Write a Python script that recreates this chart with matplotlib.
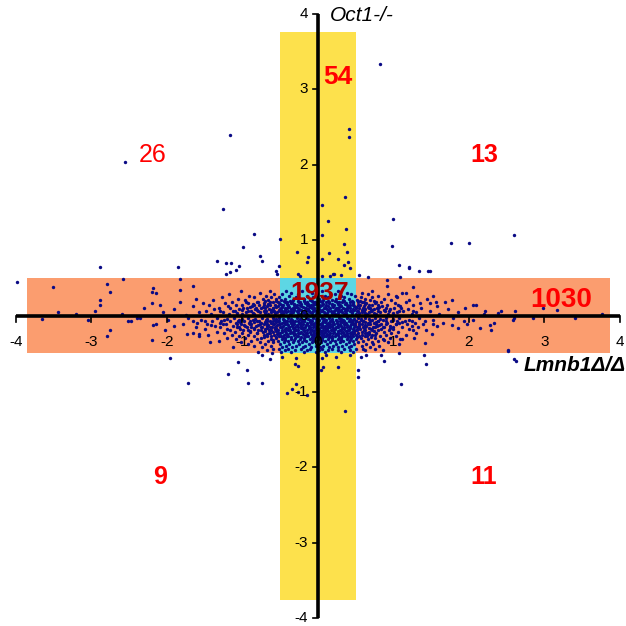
import matplotlib
matplotlib.use('Agg')
import matplotlib.pyplot as plt

plt.rcParams['font.family'] = ['Liberation Sans', 'DejaVu Sans']

# tick values on both axes
ticks = [-4, -3, -2, -1, 0, 1, 2, 3, 4]

# counts shown in each region: (label, x, y, colour, bold, size)
region_counts = [
    ('54', 0.27, 3.16, '#ff0000', True, 19),
    ('26', -2.19, 2.13, '#ff0000', False, 18),
    ('13', 2.21, 2.13, '#ff0000', True, 18),
    ('9', -2.09, -2.13, '#ff0000', True, 18),
    ('11', 2.20, -2.13, '#ff0000', True, 18),
    ('1937', 0.02, 0.30, '#a80000', True, 19),
    ('1030', 3.22, 0.21, '#ff0000', True, 20),
]

# sparse points read one by one (log ratio Lmnb1, log ratio Oct1)
outer_points = [
    (-2.55, 2.04), (-1.17, 2.39), (-1.26, 1.41), (-0.84, 1.08), (-0.99, 0.91), (-0.50, 1.02),
    (-0.77, 0.79), (-0.74, 0.73), (-1.34, 0.73), (-1.22, 0.70), (-1.15, 0.70), (-1.04, 0.66),
    (-1.09, 0.61), (-1.17, 0.58), (-1.22, 0.56), (-2.88, 0.65), (-1.85, 0.65), (-0.51, 0.66),
    (-0.55, 0.60), (-0.54, 0.56), (-0.28, 0.85), (-0.13, 0.78), (-0.15, 0.71), (-0.26, 0.56),
    (-0.24, 0.53), (-3.98, 0.45), (-3.51, 0.39), (-2.58, 0.49), (-2.79, 0.42), (-2.75, 0.32),
    (-2.89, 0.21), (-2.88, 0.15), (-3.44, 0.05), (-2.51, -0.07), (-2.75, -0.18), (-2.79, -0.26),
    (-2.20, 0.32), (-2.14, 0.30), (-2.18, 0.37), (-1.83, 0.49), (-1.65, 0.40), (-1.83, 0.34),
    (-2.20, 0.17), (-2.09, 0.15), (-2.18, -0.12), (-2.20, -0.32), (-1.96, -0.55), (-1.74, -0.24),
    (-1.65, -0.23), (-1.58, -0.24), (-1.43, -0.34), (-1.41, -0.12), (-1.72, -0.88), (-1.19, -0.77),
    (-1.06, -0.61), (-0.94, -0.71), (-0.93, -0.88), (-0.74, -0.88), (-0.74, -0.52), (-0.64, -0.57),
    (-0.61, -0.49), (-0.47, -0.54), (-0.29, -0.55), (-0.30, -0.64), (-0.26, -0.66), (-0.29, -0.90),
    (-0.34, -0.97), (-0.41, -1.02), (-0.26, -1.01), (-0.14, -1.05), (0.57, -0.54), (0.64, -0.51),
    (0.84, -0.51), (0.87, -0.59), (1.07, -0.49), (1.41, -0.52), (1.43, -0.63), (1.10, -0.90),
    (0.53, -0.71), (0.53, -0.81), (2.60, -0.57), (2.62, -0.60), (2.52, -0.46), (0.36, -1.26),
    (0.26, -0.67), (0.07, -0.68), (0.04, -0.71), (0.05, -0.56), (0.42, -0.52), (0.24, -0.54),
    (0.11, -0.52), (0.82, 3.33), (0.41, 2.47), (0.41, 2.37), (0.36, 1.57), (0.05, 1.47),
    (0.14, 1.26), (0.37, 1.15), (0.05, 1.07), (0.34, 0.95), (0.38, 0.85), (0.15, 0.84),
    (0.26, 0.76), (0.05, 0.76), (0.40, 0.71), (0.34, 0.68), (0.42, 0.63), (0.21, 0.56),
    (0.99, 1.28), (0.98, 0.92), (1.07, 0.67), (1.21, 0.64), (1.34, 0.59), (1.48, 0.59),
    (1.76, 0.97), (2.00, 0.97), (2.60, 1.07), (0.55, 0.54), (0.66, 0.51), (0.20, 0.56),
    (0.06, 0.53), (0.16, 0.53), (0.30, 0.54), (1.20, 0.65), (1.46, 0.59), (0.91, 0.48),
    (1.09, 0.52), (0.92, 0.40), (1.26, 0.39), (1.04, 0.27), (1.17, 0.30), (1.53, 0.26),
    (1.48, 0.17), (1.57, 0.19), (1.77, 0.21), (1.95, 0.11), (2.10, 0.15), (2.21, 0.06),
    (2.39, 0.04), (2.61, 0.07), (2.98, 0.11), (3.16, 0.08), (3.76, 0.03), (2.15, -0.16),
    (2.28, -0.12), (2.29, -0.19), (1.77, -0.12), (1.86, -0.16), (1.97, -0.10), (2.59, -0.05),
    (2.52, -0.45), (1.42, -0.36), (0.86, -0.45), (1.26, -0.19), (1.09, -0.30), (1.51, -0.24),
    (1.53, -0.10), (0.87, -0.32), (0.75, -0.25), (1.00, -0.14), (0.60, -0.43), (0.73, -0.37),
    (-3.20, 0.03), (-3.65, -0.04), (-2.95, 0.06), (-2.40, -0.02), (-1.75, 0.02), (3.40, -0.02),
    (2.85, -0.03),
]

# dense centre, read row by row: (y, [x values in that row])
core_rows = [
    (0.33, [-0.42, -0.21, 0.05, 0.27, -0.63, 0.71, -1.02]),
    (0.31, [-0.35, -0.08, 0.16, 0.38, -0.77, 0.58, 1.12]),
    (0.29, [-0.47, -0.26, -0.02, 0.22, 0.44, -0.58, 0.66, -1.18, 0.93]),
    (0.27, [-0.38, -0.14, 0.09, 0.31, 0.49, -0.69, 0.79, -0.91, 1.31]),
    (0.25, [-0.51, -0.29, -0.06, 0.13, 0.35, -0.62, 0.57, -0.84, 0.72, -1.27, 1.05]),
    (0.23, [-0.44, -0.19, 0.02, 0.24, 0.41, -0.55, 0.62, -0.73, 0.88, -1.06, 1.44, -1.61]),
    (0.21, [-0.49, -0.33, -0.11, 0.07, 0.19, 0.33, 0.52, -0.66, 0.69, -0.97, 0.97, -1.39, 1.21]),
    (0.20, [-0.55, -0.45, -0.37, -0.27, -0.18, -0.08, 0.03, 0.13, 0.23, 0.34, 0.45, 0.56, -0.7, 0.74]),
    (0.19, [-0.41, -0.24, -0.04, 0.11, 0.28, 0.46, -0.59, 0.58, -0.81, 0.83, -1.14, 1.17, -1.83, 1.68]),
    (0.18, [-0.53, -0.43, -0.34, -0.25, -0.15, -0.06, 0.05, 0.15, 0.25, 0.32, 0.43, 0.53, -0.64, 0.61, -0.79, 0.77, -0.95]),
    (0.17, [-0.52, -0.36, -0.17, 0.0, 0.15, 0.37, -0.71, 0.64, -0.92, 0.76, -1.23, 1.02, -1.52, 1.35]),
    (0.16, [-0.5, -0.41, -0.32, -0.23, -0.13, -0.04, 0.07, 0.18, 0.26, 0.36, 0.47, -0.66, 0.63, -0.86]),
    (0.15, [-0.46, -0.28, -0.09, 0.06, 0.21, 0.42, 0.53, -0.63, 0.71, -0.78, 0.92, -1.08, 1.26, -1.44, 2.05]),
    (0.14, [-0.57, -0.48, -0.4, -0.32, -0.24, -0.15, -0.07, 0.02, 0.11, 0.19, 0.29, 0.38, 0.46, 0.56, -0.71, 0.68, -0.84, 0.8, -1.0, 1.06]),
    (0.13, [-0.53, -0.39, -0.22, -0.12, 0.03, 0.14, 0.30, 0.48, -0.68, 0.61, -0.87, 0.85, -1.19, 1.09, -1.66, 1.58]),
    (0.12, [-0.56, -0.47, -0.38, -0.29, -0.2, -0.1, 0.0, 0.1, 0.2, 0.28, 0.4, 0.5, -0.73, 0.66, -0.9, 0.81]),
    (0.11, [-0.44, -0.31, -0.16, -0.05, 0.09, 0.24, 0.39, 0.55, -0.60, 0.67, -0.75, 0.79, -0.99, 1.01, -1.31, 1.37, -2.3]),
    (0.10, [-0.59, -0.49, -0.41, -0.33, -0.26, -0.17, -0.08, 0.0, 0.08, 0.16, 0.25, 0.33, 0.42, 0.51, 0.6, -0.7, 0.69, -0.82, 0.78, -0.94, 0.9, -1.16, 1.1]),
    (0.09, [-0.50, -0.35, -0.25, -0.13, 0.01, 0.12, 0.27, 0.36, 0.47, -0.65, 0.63, -0.83, 0.74, -1.05, 0.95, -1.37, 1.19, 1.72, -1.9]),
    (0.08, [-0.52, -0.44, -0.31, -0.22, -0.15, -0.05, 0.06, 0.14, 0.23, 0.31, 0.39, 0.48, 0.58, -0.62, -0.8, 0.72, -1.0, 0.87]),
    (0.07, [-0.47, -0.40, -0.27, -0.18, -0.07, 0.04, 0.17, 0.26, 0.43, 0.52, -0.58, 0.60, -0.72, 0.70, -0.89, 0.89, -1.12, 1.13, -1.48, 1.48, 2.42]),
    (0.06, [-0.6, -0.5, -0.43, -0.35, -0.28, -0.21, -0.12, -0.03, 0.05, 0.13, 0.21, 0.29, 0.36, 0.44, 0.53, 0.61, -0.69, 0.7, -0.79, 0.8, -0.92, 0.94, -1.1, 1.08, -1.3, 1.26]),
    (0.05, [-0.54, -0.42, -0.33, -0.2, -0.1, 0.0, 0.08, 0.2, 0.32, 0.45, -0.62, 0.58, -0.77, 0.68, -0.95, 0.82, -1.26, 1.05, -1.58, 1.3, -2.05, 1.85]),
    (0.04, [-0.57, -0.46, -0.36, -0.26, -0.17, -0.08, 0.02, 0.12, 0.18, 0.27, 0.37, 0.45, 0.55, -0.7, 0.63, -0.86, 0.74, -1.07, 0.99]),
    (0.03, [-0.49, -0.37, -0.23, -0.15, -0.03, 0.1, 0.22, 0.35, 0.5, -0.66, 0.65, -0.84, 0.77, -1.01, 0.93, -1.18, 1.24, -1.42, 1.61, -2.6, 2.2]),
    (-0.03, [-0.51, -0.39, -0.28, -0.16, -0.06, 0.05, 0.15, 0.28, 0.39, 0.53, -0.6, 0.62, -0.74, 0.75, -0.93, 0.9, -1.11, 1.07, -1.33, 1.34, -1.72, 1.79, -2.35, 2.6]),
    (-0.04, [-0.55, -0.46, -0.36, -0.24, -0.13, -0.02, 0.08, 0.19, 0.3, 0.42, 0.48, 0.57, -0.68, 0.67, -0.83, 0.82, -1.0, 0.99, -1.2]),
    (-0.05, [-0.45, -0.34, -0.21, -0.11, 0.02, 0.11, 0.24, 0.33, 0.46, -0.57, 0.57, -0.69, 0.71, -0.86, 0.86, -1.04, 1.0, -1.24, 1.21, -1.55, 1.52, -1.98, 2.05, -3.05]),
    (-0.06, [-0.6, -0.52, -0.43, -0.37, -0.27, -0.18, -0.09, -0.01, 0.07, 0.16, 0.25, 0.35, 0.43, 0.51, 0.6, -0.68, 0.69, -0.78, 0.79, -0.9, 0.9, -1.06, 1.05, -1.28, 1.24, -1.5]),
    (-0.07, [-0.53, -0.41, -0.3, -0.19, -0.08, 0.0, 0.08, 0.18, 0.29, 0.41, 0.51, -0.64, 0.6, -0.8, 0.79, -0.98, 0.97, -1.16, 1.15, -1.4, 1.42, -1.66, 1.93, -2.48]),
    (-0.08, [-0.56, -0.45, -0.33, -0.22, -0.11, -0.02, 0.1, 0.2, 0.32, 0.45, 0.54, -0.7, 0.63, -0.85, 0.77, -1.03, 1.12]),
    (-0.09, [-0.48, -0.36, -0.25, -0.14, -0.04, 0.06, 0.13, 0.25, 0.37, 0.49, -0.62, 0.66, -0.75, 0.74, -0.91, 0.92, -1.09, 1.08, -1.3, 1.28, -1.6, 1.66, 2.33]),
    (-0.10, [-0.58, -0.5, -0.41, -0.34, -0.24, -0.15, -0.06, 0.04, 0.12, 0.2, 0.29, 0.36, 0.46, 0.55, -0.67, 0.66, -0.77, 0.77, -0.9, 0.9, -1.07, 1.03, -1.26]),
    (-0.11, [-0.52, -0.43, -0.32, -0.2, -0.09, 0.03, 0.16, 0.21, 0.34, 0.44, -0.59, 0.58, -0.71, 0.69, -0.88, 0.84, -1.02, 1.04, -1.22, 1.18, -1.47, 1.39, -1.79, -2.15]),
    (-0.12, [-0.54, -0.4, -0.28, -0.16, -0.05, 0.06, 0.14, 0.26, 0.38, 0.49, -0.66, 0.62, -0.79, 0.81, -0.98]),
    (-0.13, [-0.46, -0.34, -0.23, -0.12, -0.01, 0.1, 0.19, 0.31, 0.43, 0.54, -0.67, 0.64, -0.82, 0.78, -0.96, 0.96, -1.13, 1.25, -1.36, 1.58, -1.9]),
    (-0.14, [-0.57, -0.48, -0.38, -0.3, -0.21, -0.11, -0.03, 0.07, 0.16, 0.24, 0.35, 0.42, 0.52, -0.64, 0.63, -0.74, 0.76, -0.88, 0.86, -1.05]),
    (-0.15, [-0.5, -0.38, -0.27, -0.17, -0.06, 0.04, 0.14, 0.27, 0.38, 0.48, -0.61, 0.6, -0.76, 0.73, -0.94, 0.88, -1.07, 1.11, -1.29, 1.33, -1.62]),
    (-0.16, [-0.55, -0.42, -0.33, -0.23, -0.12, -0.02, 0.09, 0.2, 0.32, 0.43, 0.54, -0.67, 0.68, -0.84, 0.95]),
    (-0.17, [-0.44, -0.31, -0.2, -0.1, 0.01, 0.12, 0.23, 0.35, 0.46, -0.57, 0.56, -0.7, 0.7, -0.85, 0.83, -1.03, 1.0, -1.21, 1.2, -1.5]),
    (-0.18, [-0.56, -0.47, -0.37, -0.27, -0.18, -0.08, 0.02, 0.11, 0.2, 0.31, 0.41, 0.5, -0.62, 0.61, -0.76, 0.72, -0.93]),
    (-0.19, [-0.53, -0.4, -0.29, -0.15, -0.04, 0.07, 0.17, 0.29, 0.4, 0.52, -0.65, 0.63, -0.79, 0.8, -0.99, 0.94, -1.17, 1.43, -2.02]),
    (-0.20, [-0.55, -0.44, -0.32, -0.19, -0.07, 0.04, 0.14, 0.26, 0.37, 0.48, -0.7, 0.74, -0.9]),
    (-0.21, [-0.47, -0.35, -0.22, -0.11, 0.02, 0.09, 0.21, 0.33, 0.45, -0.6, 0.59, -0.73, 0.68, -0.9, 0.87, -1.1, 1.06, -1.34]),
    (-0.22, [-0.53, -0.42, -0.33, -0.24, -0.16, -0.05, 0.05, 0.16, 0.27, 0.38, 0.48, -0.65, 0.62, -0.8]),
    (-0.23, [-0.5, -0.37, -0.26, -0.14, -0.03, 0.08, 0.2, 0.31, 0.42, 0.53, -0.63, 0.65, -0.81, 0.77, -1.0, 0.97, -1.25, 1.3]),
    (-0.24, [-0.54, -0.41, -0.3, -0.2, -0.09, 0.01, 0.12, 0.24, 0.35, 0.45, -0.68, 0.67]),
    (-0.25, [-0.45, -0.32, -0.18, -0.07, 0.05, 0.15, 0.26, 0.39, 0.5, -0.58, 0.58, -0.72, 0.72, -0.93, 0.9, -1.14, 1.16, -1.45]),
    (-0.26, [-0.49, -0.39, -0.26, -0.16, -0.04, 0.08, 0.19, 0.32, 0.43, 0.54, -0.62, 0.65]),
    (-0.27, [-0.51, -0.41, -0.28, -0.13, -0.01, 0.11, 0.23, 0.36, 0.47, -0.67, 0.62, -0.84, 0.82, -1.05, 1.03, -1.58]),
    (-0.28, [-0.55, -0.46, -0.35, -0.22, -0.08, 0.03, 0.15, 0.28, 0.4, 0.52, -0.72, 0.7]),
    (-0.29, [-0.43, -0.3, -0.19, -0.06, 0.06, 0.18, 0.3, 0.44, -0.56, 0.57, -0.76, 0.75, -0.97, 0.95, -1.2, 1.27]),
    (-0.31, [-0.48, -0.36, -0.24, -0.1, 0.02, 0.14, 0.27, 0.38, 0.51, -0.62, 0.66, -0.8, 0.86, -1.09, 1.12]),
    (-0.32, [-0.44, -0.31, -0.19, -0.07, 0.06, 0.19, 0.31, 0.43, -0.6]),
    (-0.33, [-0.53, -0.4, -0.27, -0.16, -0.04, 0.09, 0.22, 0.33, 0.46, -0.66, 0.6, -0.88, 0.79, -1.31]),
    (-0.35, [-0.45, -0.33, -0.21, -0.08, 0.04, 0.16, 0.29, 0.41, 0.53, -0.59, 0.71, -0.77, 0.93, -1.02]),
    (-0.37, [-0.5, -0.38, -0.25, -0.12, 0.0, 0.12, 0.24, 0.37, 0.48, -0.7, 0.64, -0.92, 1.08]),
    (-0.39, [-0.42, -0.29, -0.17, -0.03, 0.07, 0.2, 0.32, 0.44, -0.62, 0.58, -0.85, 0.81]),
    (-0.41, [-0.47, -0.34, -0.2, -0.09, 0.03, 0.15, 0.27, 0.41, -0.74, 0.69, -1.12]),
    (-0.43, [-0.52, -0.39, -0.23, -0.11, 0.05, 0.19, 0.35, 0.5, -0.6, 0.75]),
    (-0.45, [-0.44, -0.3, -0.14, 0.01, 0.13, 0.26, 0.43, -0.67, 0.62]),
    (-0.47, [-0.49, -0.36, -0.18, -0.02, 0.1, 0.3, 0.47, -0.79]),
]

xs = [p[0] for p in outer_points]
ys = [p[1] for p in outer_points]
for yrow, xrow in core_rows:
    for xv in xrow:
        xs.append(xv)
        ys.append(yrow)

fig = plt.figure(figsize=(6.26, 6.26), dpi=100)
ax = fig.add_axes([0, 0, 1, 1])
ax.set_xlim(-4.21, 4.08)
ax.set_ylim(-4.10, 4.18)
ax.axis('off')

# shaded bands
yellow = '#fde14c'
orange = '#fb9d6f'
cyan = '#5dd6e4'
ax.fill_between([-0.5, 0.5], -3.75, 3.76, color=yellow, lw=0, zorder=1)
ax.fill_between([-3.85, 3.87], -0.49, 0.5, color=orange, lw=0, zorder=1)
ax.fill_between([-0.5, 0.5], -0.49, 0.5, color=cyan, lw=0, zorder=2)

ax.scatter(xs, ys, s=6, color='#0a0a85', marker='o', linewidths=0, zorder=3)

# axes through the origin
ax.plot([-4, 4], [0, 0], color='black', lw=2.6, zorder=5, solid_capstyle='butt')
ax.plot([0, 0], [-4, 4], color='black', lw=2.6, zorder=5, solid_capstyle='butt')
for t in ticks:
    ax.plot([t, t], [0, -0.08], color='black', lw=1.2, zorder=5)
    ax.plot([0, -0.07], [t, t], color='black', lw=1.2, zorder=5)
    ax.text(t, -0.34, str(t), ha='center', va='center', fontsize=11, zorder=4)
    ax.text(-0.13, t, str(t), ha='right', va='center', fontsize=11, zorder=4)

ax.text(0.16, 3.98, 'Oct1-/-', style='italic', fontsize=15, ha='left', va='center', zorder=6)
ax.text(4.08, -0.65, 'Lmnb1Δ/Δ', style='italic', fontweight='bold', fontsize=15,
        ha='right', va='center', zorder=6)

for lab, tx, ty, col, bold, fs in region_counts:
    ax.text(tx, ty, lab, color=col, fontsize=fs, fontweight='bold' if bold else 'normal',
            ha='center', va='center', zorder=6)

fig.savefig('out.png', dpi=100)
